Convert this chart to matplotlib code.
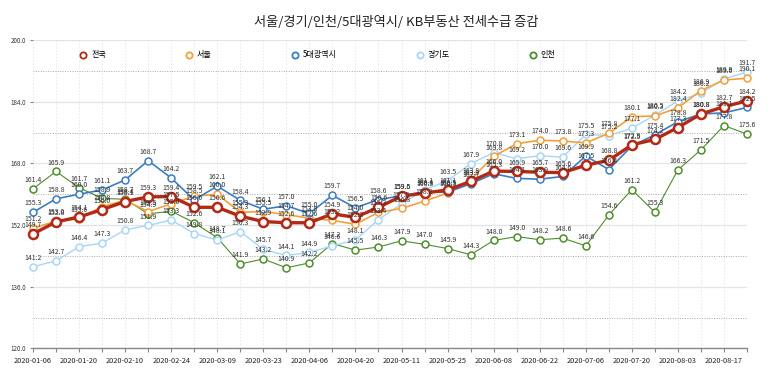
import matplotlib
matplotlib.use("Agg")
import matplotlib.pyplot as plt
from matplotlib.lines import Line2D

plt.rcParams['font.family'] = ['Noto Sans CJK KR', 'DejaVu Sans']

dates = ['2020-01-06', '2020-01-13', '2020-01-20', '2020-02-03', '2020-02-10', '2020-02-17',
         '2020-02-24', '2020-03-02', '2020-03-09', '2020-03-16', '2020-03-23', '2020-03-30',
         '2020-04-06', '2020-04-13', '2020-04-20', '2020-04-27', '2020-05-11', '2020-05-18',
         '2020-05-25', '2020-06-01', '2020-06-08', '2020-06-15', '2020-06-22', '2020-06-29',
         '2020-07-06', '2020-07-13', '2020-07-20', '2020-07-27', '2020-08-03', '2020-08-10',
         '2020-08-17', '2020-08-24']

national = [149.7, 152.8, 154.1, 156.0, 158.1, 159.3, 159.4, 156.6, 156.6, 154.3, 152.9, 152.6,
            152.6, 154.9, 154.0, 156.6, 159.5, 160.3, 161.1, 163.3, 166.0, 165.9, 165.7, 165.6,
            167.5, 168.8, 172.8, 174.2, 177.3, 180.8, 182.7, 184.2]
seoul = [151.2, 153.0, 153.6, 156.8, 158.4, 155.5, 157.5, 159.5, 160.0, 155.3, 155.5, 154.7,
         153.8, 153.2, 152.2, 155.3, 156.3, 158.2, 160.3, 163.8, 169.8, 173.1, 174.0, 173.8,
         173.3, 175.8, 180.1, 180.3, 182.4, 186.9, 189.6, 190.1]
metro5 = [155.3, 158.8, 160.0, 161.1, 163.7, 168.7, 164.2, 158.5, 162.1, 158.4, 156.1, 157.0,
          155.0, 159.7, 156.5, 158.6, 159.6, 160.6, 160.5, 162.7, 165.3, 164.1, 163.9, 164.6,
          169.9, 166.4, 172.5, 175.4, 178.8, 180.8, 181.1, 182.5]
gyeonggi = [141.2, 142.7, 146.4, 147.3, 150.8, 151.9, 153.3, 149.8, 148.1, 150.3, 145.7, 144.1,
            144.9, 146.6, 148.1, 153.4, 157.5, 161.1, 163.5, 167.9, 170.8, 169.2, 170.0, 169.6,
            175.5, 175.2, 177.1, 180.5, 184.2, 186.2, 189.9, 191.7]
incheon = [161.4, 165.9, 161.7, 158.9, 158.7, 154.9, 155.6, 152.6, 148.7, 141.9, 143.2, 140.9,
           142.2, 147.2, 145.5, 146.3, 147.9, 147.0, 145.9, 144.3, 148.0, 149.0, 148.2, 148.6,
           146.6, 154.6, 161.2, 155.3, 166.3, 171.5, 177.8, 175.6]

names = ['전국', '서울', '5대광역시', '경기도', '인천']
colors = ['#b22a16', '#f4a03a', '#3b7dc4', '#a9d6f7', '#4e8d2c']
series = [national, seoul, metro5, gyeonggi, incheon]
widths = [2.4, 1.2, 1.2, 1.0, 0.8]
msizes = [6.5, 5.0, 5.0, 5.0, 5.0]
mews = [1.8, 1.1, 1.1, 1.1, 1.1]
zorders = [10, 6, 7, 5, 4]

fig = plt.figure(figsize=(7.73, 3.74), dpi=100)
ax = fig.add_axes([33 / 773, 1 - 348.4 / 374, 714 / 773, 308.4 / 374])

x = list(range(len(dates)))
handles = []
for name, vals, c, lw, ms, mew, z in zip(names, series, colors, widths, msizes, mews, zorders):
    ax.plot(x, vals, color=c, lw=lw, marker='o', ms=ms, mfc='white', mec=c, mew=mew,
            zorder=z, clip_on=False)
    for xi, v in zip(x, vals):
        ax.annotate('%.1f' % v, (xi, v), xytext=(0, 3.5), textcoords='offset points',
                    ha='center', va='bottom', fontsize=5, color='#333333', zorder=20)
    handles.append(Line2D([], [], ls='none', marker='o', ms=4.5, mfc='white', mec=c, mew=1.3))

ax.set_xlim(0, len(dates) - 1)
ax.set_ylim(120, 200)
ax.set_yticks([120, 136, 152, 168, 184, 200])
ax.set_yticklabels(['%.1f' % t for t in [120, 136, 152, 168, 184, 200]])
ax.set_yticks([128, 144, 160, 176, 192], minor=True)
ax.set_xticks(x)
ax.set_xticklabels([d if i % 2 == 0 else '' for i, d in enumerate(dates)])

ax.grid(axis='y', which='major', color='#e4e4e4', lw=0.9, ls='-')
ax.grid(axis='y', which='minor', color='#aaaaaa', lw=0.7, ls=(0, (1, 1.5)))
ax.grid(axis='x', which='major', color='#e6e6e6', lw=0.6, ls=(0, (2, 2)))
ax.tick_params(axis='y', which='major', labelsize=4.5, length=2, color='#888888', pad=3,
               labelcolor='#333333')
ax.tick_params(axis='y', which='minor', length=0)
ax.tick_params(axis='x', labelsize=5.3, length=3, color='#888888', pad=3, labelcolor='#222222')

for s in ['top', 'right', 'left']:
    ax.spines[s].set_visible(False)
ax.spines['bottom'].set_color('#888888')
ax.spines['bottom'].set_linewidth(1.0)

fig.text(396 / 773, 1 - 22 / 374, '서울/경기/인천/5대광역시/ KB부동산 전세수급 증감',
         ha='center', va='center', fontsize=9.5, color='#222222')

fig.legend(handles, names, loc='center left', bbox_to_anchor=(75 / 773, 1 - 55 / 374),
           ncol=5, frameon=False, fontsize=5.8, handlelength=1.0, handletextpad=0.5,
           columnspacing=9.8, borderpad=0)

fig.savefig('out.png', dpi=100)
